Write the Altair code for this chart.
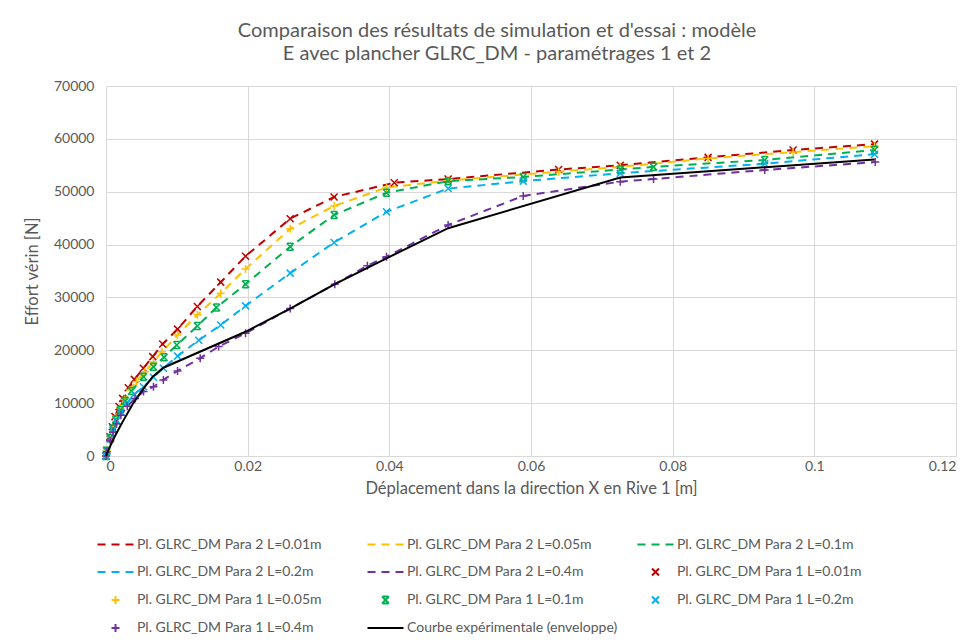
import altair as alt
import pandas as pd

# ---------------- data ----------------
L01_x = [0, 0.0001, 0.00056, 0.0009, 0.00127, 0.00184, 0.00235, 0.00315, 0.004, 0.00527, 0.0066, 0.0080, 0.0101, 0.0129, 0.0162, 0.0197, 0.026, 0.0322, 0.0407, 0.0483, 0.0639, 0.0726, 0.085, 0.097, 0.1085]
L01_y = [0, 1100, 3650, 5550, 7450, 9350, 10900, 12900, 14500, 16600, 18800, 21200, 24000, 28300, 32900, 37800, 44900, 49000, 51700, 52400, 54200, 55000, 56500, 57900, 59000]

L05_x = [0, 0.0001, 0.0006, 0.001, 0.0014, 0.002, 0.0026, 0.0034, 0.0043, 0.0055, 0.0067, 0.0079, 0.0101, 0.0129, 0.0162, 0.0197, 0.026, 0.0322, 0.0396, 0.0483, 0.0639, 0.0726, 0.085, 0.097, 0.1085]
L05_y = [0, 1100, 3600, 5500, 7300, 9100, 10700, 12500, 14100, 15950, 17800, 19700, 22900, 26700, 30800, 35400, 43000, 47300, 50800, 52100, 53800, 54700, 56300, 57500, 58600]

L1_x = [0, 0.0001, 0.0006, 0.001, 0.0014, 0.002, 0.0027, 0.0036, 0.0053, 0.0067, 0.0082, 0.0100, 0.0129, 0.0156, 0.0197, 0.026, 0.0322, 0.0396, 0.0483, 0.0589, 0.0726, 0.0773, 0.093, 0.1085]
L1_y = [0, 1000, 3400, 5200, 6900, 8700, 10400, 12300, 15000, 16900, 18700, 21000, 24600, 28100, 32500, 39600, 45600, 49800, 52000, 52800, 54200, 54700, 56000, 57900]

L2_x = [0, 0.0001, 0.0006, 0.001, 0.0015, 0.0021, 0.0029, 0.004, 0.0053, 0.0067, 0.0081, 0.0101, 0.0131, 0.0162, 0.0197, 0.026, 0.0322, 0.0396, 0.0483, 0.0589, 0.0726, 0.093, 0.1085]
L2_y = [0, 900, 3200, 4900, 6600, 8300, 9900, 11700, 13100, 14900, 16600, 18900, 21900, 24800, 28400, 34600, 40400, 46200, 50600, 52000, 53500, 55300, 57100]

L4_x = [0, 0.0001, 0.0006, 0.001, 0.0015, 0.0021, 0.003, 0.0041, 0.0053, 0.0067, 0.0081, 0.0101, 0.0133, 0.0159, 0.0197, 0.026, 0.0323, 0.0369, 0.0396, 0.0483, 0.0589, 0.0726, 0.0773, 0.093, 0.1086]
L4_y = [0, 800, 2900, 4500, 6100, 7700, 9400, 10900, 12200, 13100, 14400, 16100, 18500, 20700, 23200, 27900, 32500, 36000, 37700, 43700, 49200, 51900, 52400, 54100, 55600]

exp_x = [0, 0.0005, 0.0012, 0.0024, 0.0038, 0.0052, 0.0066, 0.0081, 0.0197, 0.026, 0.0323, 0.0396, 0.0483, 0.0726, 0.1085]
exp_y = [0, 1600, 3600, 6600, 9900, 12600, 15000, 16700, 23500, 27900, 32500, 37400, 43100, 52700, 56100]

L_labels = ["0.01", "0.05", "0.1", "0.2", "0.4"]
L_data = [(L01_x, L01_y), (L05_x, L05_y), (L1_x, L1_y), (L2_x, L2_y), (L4_x, L4_y)]
L_colors = ["#C00000", "#FFC000", "#00B050", "#00B0F0", "#7030A0"]
exp_name = "Courbe expérimentale (enveloppe)"

x_ticks = [0, 0.02, 0.04, 0.06, 0.08, 0.1, 0.12]
y_ticks = [0, 10000, 20000, 30000, 40000, 50000, 60000, 70000]

# ---------------- build tables ----------------
p2_names = [f"Pl. GLRC_DM Para 2 L={l}m" for l in L_labels]
p1_names = [f"Pl. GLRC_DM Para 1 L={l}m" for l in L_labels]
domain = p2_names + p1_names + [exp_name]

rows_p2, rows_p1 = [], []
for name2, name1, (xs, ys) in zip(p2_names, p1_names, L_data):
    for xv, yv in zip(xs, ys):
        rows_p2.append({"x": xv, "y": yv, "series": name2})
        rows_p1.append({"x": xv, "y": yv, "series": name1})
df_p2 = pd.DataFrame(rows_p2)
df_p1 = pd.DataFrame(rows_p1)
df_exp = pd.DataFrame({"x": exp_x, "y": exp_y, "series": exp_name})

colors = L_colors + L_colors + ["#000000"]

DASH = "M-3.6,0H-2M-0.8,0H0.8M2,0H3.6"
SOLID = "M-3.6,0H3.6"
XM = "M-0.7,-0.7L0.7,0.7M-0.7,0.7L0.7,-0.7"
PLUS = "M-0.8,0H0.8M0,-0.8V0.8"
STAR = "M-0.7,-0.7L0.7,0.7M-0.7,0.7L0.7,-0.7M-0.6,-0.7H0.6M-0.6,0.7H0.6"
shapes = [DASH] * 5 + [XM, PLUS, STAR, XM, PLUS] + [SOLID]

color_scale = alt.Scale(domain=domain, range=colors)
shape_scale = alt.Scale(domain=domain, range=shapes)

FONT = "Lato"
GREY = "#595959"


def leg():
    return alt.Legend(title=None, orient="none", legendX=-9, legendY=451,
                      columns=3, direction="horizontal")


xenc = alt.X("x:Q", scale=alt.Scale(domain=[0, 0.12], nice=False),
             axis=alt.Axis(values=x_ticks, labelExpr="format(datum.value, '~g')",
                           title="Déplacement dans la direction X en Rive 1 [m]"))
yenc = alt.Y("y:Q", scale=alt.Scale(domain=[0, 70000], nice=False),
             axis=alt.Axis(values=y_ticks, format="d", title="Effort vérin [N]"))

lines = alt.Chart(df_p2).mark_line(strokeDash=[8, 6], strokeWidth=2).encode(
    x=xenc, y=yenc,
    color=alt.Color("series:N", scale=color_scale, legend=leg()),
)
points = alt.Chart(df_p1).mark_point(filled=False, size=100, strokeWidth=1.5, opacity=1).encode(
    x=xenc, y=yenc,
    color=alt.Color("series:N", scale=color_scale, legend=leg()),
    shape=alt.Shape("series:N", scale=shape_scale, legend=leg()),
)
exp_line = alt.Chart(df_exp).mark_line(strokeWidth=2).encode(
    x=xenc, y=yenc,
    color=alt.Color("series:N", scale=color_scale, legend=leg()),
)

chart = alt.layer(lines, points, exp_line).properties(
    width=850, height=370,
    autosize=alt.AutoSizeParams(type="none"),
    padding={"left": 98, "top": 78, "right": 15, "bottom": 180},
    title=alt.TitleParams(
        text=["Comparaison des résultats de simulation et d'essai : modèle",
              "E avec plancher GLRC_DM - paramétrages 1 et 2"],
        font=FONT, fontSize=20, fontWeight="normal", color=GREY,
        anchor="middle", lineHeight=23, offset=15, dx=-34),
).configure_view(stroke=None).configure_axis(
    grid=True, gridColor="#d9d9d9", gridWidth=1, domain=False, ticks=False,
    labelFont=FONT, labelFontSize=14, labelColor=GREY,
    titleFont=FONT, titleFontSize=16.5, titleFontWeight="normal", titleColor=GREY,
).configure_axisX(labelPadding=3, titlePadding=7).configure_axisY(
    labelPadding=12, titlePadding=13
).configure_legend(
    labelFont=FONT, labelFontSize=14, labelColor=GREY, labelLimit=0,
    symbolSize=100, symbolStrokeWidth=2, symbolOffset=11.5, labelOffset=14.5,
    rowPadding=12, columnPadding=15, gridAlign="all", padding=0,
)

chart.save("out.html", embed_options={"renderer": "svg", "actions": False})
